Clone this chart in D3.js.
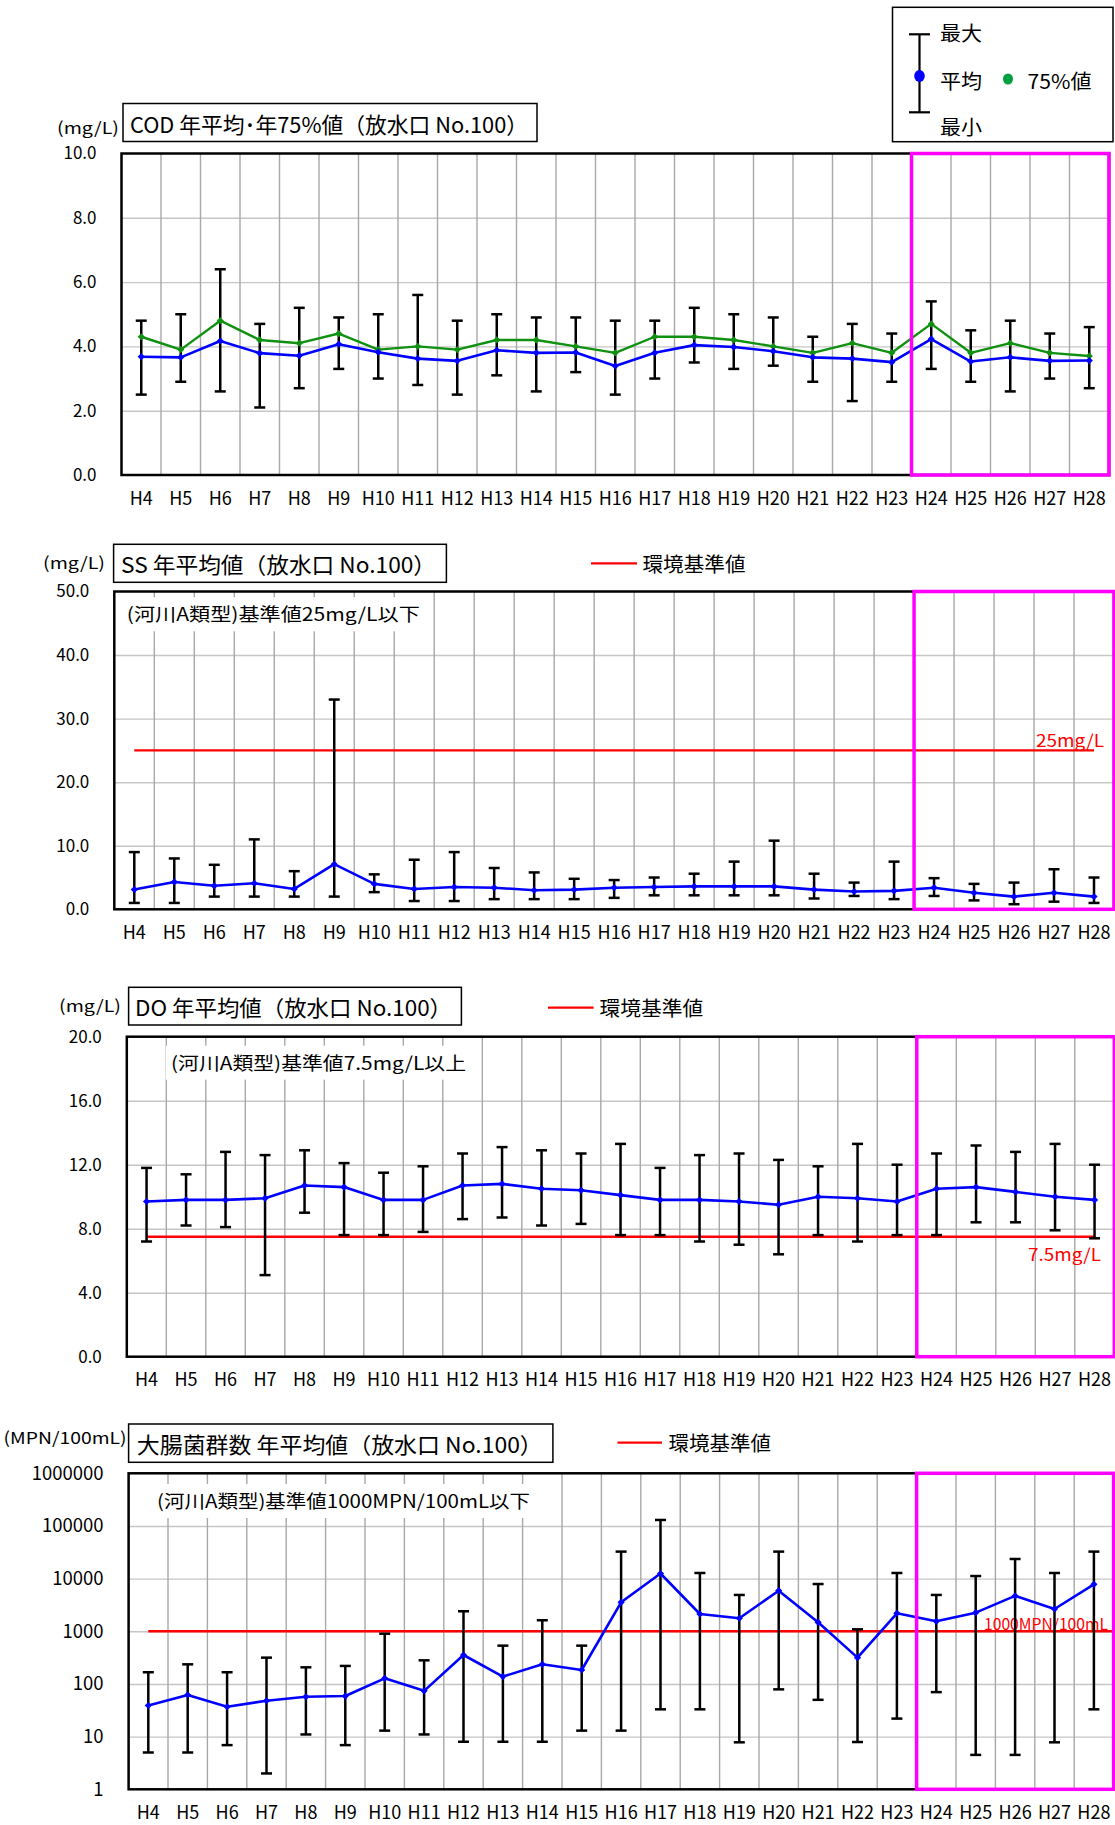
<!DOCTYPE html>
<html lang="ja">
<head>
<meta charset="utf-8">
<script src="https://cdn.jsdelivr.net/npm/d3@7"></script>
<style>
  html, body { margin: 0; padding: 0; background: #fff; }
  svg { display: block; }
</style>
</head>
<body>
<svg id="chart" width="1115" height="1825"></svg>
<script>
// DATA
const years = ["H4","H5","H6","H7","H8","H9","H10","H11","H12","H13","H14","H15","H16",
  "H17","H18","H19","H20","H21","H22","H23","H24","H25","H26","H27","H28"];

const codAvg = [3.68,3.66,4.17,3.79,3.71,4.07,3.82,3.62,3.55,3.88,3.80,3.81,3.39,3.80,4.04,3.98,3.85,3.66,3.62,3.51,4.23,3.53,3.66,3.55,3.56];
const codP75 = [4.3,3.9,4.8,4.2,4.1,4.4,3.9,4.0,3.9,4.2,4.2,4.0,3.8,4.3,4.3,4.2,4.0,3.8,4.1,3.8,4.7,3.8,4.1,3.8,3.7];
const codMax = [4.8,5.0,6.4,4.7,5.2,4.9,5.0,5.6,4.8,5.0,4.9,4.9,4.8,4.8,5.2,5.0,4.9,4.3,4.7,4.4,5.4,4.5,4.8,4.4,4.6];
const codMin = [2.5,2.9,2.6,2.1,2.7,3.3,3.0,2.8,2.5,3.1,2.6,3.2,2.5,3.0,3.5,3.3,3.4,2.9,2.3,2.9,3.3,2.9,2.6,3.0,2.7];

const ssAvg = [3.1,4.3,3.7,4.1,3.2,7.1,4.0,3.2,3.5,3.4,3.0,3.1,3.4,3.5,3.6,3.6,3.6,3.1,2.8,2.9,3.4,2.6,2.0,2.6,2.0];
const ssMax = [9.0,8.0,7.0,11.0,6.0,33.0,5.5,7.8,9.0,6.5,5.8,4.8,4.6,5.0,5.6,7.5,10.8,5.6,4.2,7.5,4.9,4.0,4.2,6.3,5.0];
const ssMin = [1.0,1.0,2.0,2.0,2.0,2.0,2.7,1.3,1.3,1.6,1.6,1.6,1.8,2.2,2.2,2.2,2.2,1.7,2.1,1.6,2.1,1.4,0.8,1.2,1.0];

const doAvg = [9.7,9.8,9.8,9.9,10.7,10.6,9.8,9.8,10.7,10.8,10.5,10.4,10.1,9.8,9.8,9.7,9.5,10.0,9.9,9.7,10.5,10.6,10.3,10.0,9.8];
const doMax = [11.8,11.4,12.8,12.6,12.9,12.1,11.5,11.9,12.7,13.1,12.9,12.7,13.3,11.8,12.6,12.7,12.3,11.9,13.3,12.0,12.7,13.2,12.8,13.3,12.0];
const doMin = [7.2,8.2,8.1,5.1,9.0,7.6,7.6,7.8,8.6,8.7,8.2,8.3,7.6,7.6,7.2,7.0,6.4,7.6,7.2,7.6,7.6,8.4,8.4,7.9,7.4];

const colAvg = [39,62,37,48,57,59,128,74,355,138,236,184,3550,12500,2130,1770,5900,1480,316,2200,1550,2260,4700,2650,7800];
const colMax = [167,236,167,316,207,220,900,281,2400,534,1620,534,32600,130000,12800,4900,32600,7900,1090,12800,4900,11200,23600,12800,32600];
const colMin = [5,5,6.9,2,11,6.9,13,11,8,8,8,13,13,33,33,7.8,79,50,7.9,22,70,4.5,4.5,7.8,33];

const codTicks = [0, 2, 4, 6, 8, 10];
const ssTicks = [0, 10, 20, 30, 40, 50];
const doTicks = [0, 4, 8, 12, 16, 20];
const colTicks = [1, 10, 100, 1000, 10000, 100000, 1000000];

const ssStandard = 25;
const doStandard = 7.5;
const colStandard = 1000;

const FONT = '"Noto Sans CJK JP", "Noto Sans", sans-serif';
const svg = d3.select("#chart").attr("font-family", FONT);

// helper for plain text labels
function label(sel, txt, x, y, size, opts = {}) {
  const t = sel.append("text")
    .attr("x", x).attr("y", y)
    .attr("font-size", size)
    .attr("dominant-baseline", "central")
    .attr("fill", opts.fill || "#000")
    .text(txt);
  if (opts.anchor) t.attr("text-anchor", opts.anchor);
  if (opts.width) t.attr("textLength", opts.width).attr("lengthAdjust", "spacingAndGlyphs");
  return t;
}

// PANEL DRAWING
function drawPanel(p) {
  const g = svg.append("g").attr("class", "panel-" + p.id);
  const w = p.right - p.left;
  const h = p.bottom - p.top;
  const x = d3.scaleBand().domain(years).range([p.left, p.right]);
  const y = (p.log ? d3.scaleLog() : d3.scaleLinear()).domain(p.domain).range([p.bottom, p.top]);
  const cx = (d) => x(d) + x.bandwidth() / 2;

  // title box + unit
  g.append("rect")
    .attr("x", p.title.x0).attr("y", p.title.y0)
    .attr("width", p.title.x1 - p.title.x0).attr("height", p.title.y1 - p.title.y0)
    .attr("fill", "#fff").attr("stroke", "#000").attr("stroke-width", 1.5);
  label(g, p.title.text, p.title.tx, (p.title.y0 + p.title.y1) / 2, 22, { width: p.title.tw });
  label(g, p.unit.text, p.unit.x, p.unit.y, 16.5, { width: p.unit.w });

  // legend for standard line
  if (p.legend) {
    g.append("line")
      .attr("x1", p.legend.x0).attr("x2", p.legend.x1)
      .attr("y1", p.legend.y).attr("y2", p.legend.y)
      .attr("stroke", "#ff0000").attr("stroke-width", 2.2);
    label(g, "環境基準値", p.legend.tx, p.legend.y, 20, { width: p.legend.tw });
  }

  // horizontal grid
  g.append("g")
    .attr("transform", `translate(${p.left},0)`)
    .call(d3.axisLeft(y).tickValues(p.ticks.slice(1, -1)).tickSize(-w).tickFormat(""))
    .call((a) => a.select(".domain").remove())
    .call((a) => a.selectAll("line").attr("stroke", "#c6c6c6").attr("stroke-width", 1.4));

  // vertical grid between years
  g.append("g").selectAll("line")
    .data(years.slice(1))
    .join("line")
    .attr("x1", (d) => x(d)).attr("x2", (d) => x(d))
    .attr("y1", p.top).attr("y2", p.bottom)
    .attr("stroke", "#a8a8a8").attr("stroke-width", 1.4);

  // note inside plot, on a white patch
  if (p.note) {
    const nt = label(g, p.note.text, p.note.x, p.note.y, 18, { width: p.note.w });
    const bb = nt.node().getBBox();
    g.insert("rect", () => nt.node())
      .attr("x", bb.x - 5).attr("y", bb.y - 3)
      .attr("width", bb.width + 10).attr("height", bb.height + 8)
      .attr("fill", "#fff");
  }

  // standard line
  if (p.std != null) {
    g.append("line")
      .attr("x1", cx(years[0]))
      .attr("x2", p.stdToEdge ? p.right : cx(years[years.length - 1]))
      .attr("y1", y(p.std)).attr("y2", y(p.std))
      .attr("stroke", "#ff0000").attr("stroke-width", 2.4);
    label(g, p.stdLabel.text, p.stdLabel.x, p.stdLabel.y, p.stdLabel.size || 17,
      { fill: "#ff0000", width: p.stdLabel.w });
  }

  // error bars (max / min)
  const capW = 5.5;
  const bars = g.append("g").attr("stroke", "#000").attr("stroke-width", 2.5);
  years.forEach((yr, i) => {
    const xc = cx(yr);
    bars.append("line").attr("x1", xc).attr("x2", xc).attr("y1", y(p.max[i])).attr("y2", y(p.min[i]));
    bars.append("line").attr("x1", xc - capW).attr("x2", xc + capW).attr("y1", y(p.max[i])).attr("y2", y(p.max[i]));
    bars.append("line").attr("x1", xc - capW).attr("x2", xc + capW).attr("y1", y(p.min[i])).attr("y2", y(p.min[i]));
  });

  const line = d3.line().x((d, i) => cx(years[i])).y((d) => y(d));
  const marker = d3.symbol(d3.symbolSquare, 26);

  function series(values, color, width) {
    g.append("path").datum(values)
      .attr("d", line).attr("fill", "none")
      .attr("stroke", color).attr("stroke-width", width).attr("stroke-linejoin", "round");
    g.append("g").selectAll("path")
      .data(values)
      .join("path")
      .attr("d", marker)
      .attr("transform", (d, i) => `translate(${cx(years[i])},${y(d)}) rotate(45)`)
      .attr("fill", color);
  }
  if (p.p75) series(p.p75, "#109010", 2.4);
  series(p.avg, "#0000ff", 2.6);

  // plot border + highlight box
  g.append("rect")
    .attr("x", p.left).attr("y", p.top).attr("width", w).attr("height", h)
    .attr("fill", "none").attr("stroke", "#000").attr("stroke-width", 2.5);
  g.append("rect")
    .attr("x", x("H24")).attr("y", p.top)
    .attr("width", p.right - x("H24")).attr("height", h)
    .attr("fill", "none").attr("stroke", "#ff00ff").attr("stroke-width", 3.5);

  // axes labels
  g.append("g")
    .attr("transform", `translate(${p.left},0)`)
    .call(d3.axisLeft(y).tickValues(p.ticks).tickFormat(p.fmt).tickSize(0).tickPadding(p.yPad))
    .call((a) => a.select(".domain").remove())
    .attr("font-family", FONT).attr("font-size", p.ySize)
    .selectAll("text").attr("fill", "#000");

  g.append("g")
    .attr("transform", `translate(0,${p.bottom})`)
    .call(d3.axisBottom(x).tickSize(0).tickPadding(17))
    .call((a) => a.select(".domain").remove())
    .attr("font-family", FONT).attr("font-size", 18)
    .selectAll("text").attr("fill", "#000");
}

const panels = [
  {
    id: "cod", left: 121.5, right: 1109, top: 153.5, bottom: 475,
    domain: [0, 10], ticks: codTicks, fmt: d3.format(".1f"), yPad: 25, ySize: 17,
    avg: codAvg, p75: codP75, max: codMax, min: codMin,
    title: { text: "COD 年平均･年75%値（放水口 No.100）", x0: 123, x1: 537, y0: 103.5, y1: 141.5, tx: 130, tw: 398 },
    unit: { text: "(mg/L)", x: 57, y: 127, w: 62 }
  },
  {
    id: "ss", left: 114.3, right: 1114, top: 591.5, bottom: 909.3,
    domain: [0, 50], ticks: ssTicks, fmt: d3.format(".1f"), yPad: 25, ySize: 17,
    avg: ssAvg, max: ssMax, min: ssMin,
    std: ssStandard, stdLabel: { text: "25mg/L", x: 1036, y: 739, w: 68 },
    title: { text: "SS 年平均値（放水口 No.100）", x0: 113.6, x1: 446.4, y0: 544.3, y1: 582.3, tx: 121, tw: 315 },
    unit: { text: "(mg/L)", x: 43, y: 561.5, w: 62 },
    legend: { x0: 591, x1: 637, y: 563.3, tx: 642.5, tw: 103 },
    note: { text: "(河川A類型)基準値25mg/L以下", x: 126.8, y: 613.3, w: 293 }
  },
  {
    id: "do", left: 126.8, right: 1114.3, top: 1036.7, bottom: 1356.7,
    domain: [0, 20], ticks: doTicks, fmt: d3.format(".1f"), yPad: 25, ySize: 17,
    avg: doAvg, max: doMax, min: doMin,
    std: doStandard, stdLabel: { text: "7.5mg/L", x: 1028, y: 1253.3, w: 73 },
    title: { text: "DO 年平均値（放水口 No.100）", x0: 128.6, x1: 461.4, y0: 987.3, y1: 1025, tx: 135, tw: 317 },
    unit: { text: "(mg/L)", x: 59, y: 1005, w: 62 },
    legend: { x0: 548, x1: 593.6, y: 1007.7, tx: 599.6, tw: 103.6 },
    note: { text: "(河川A類型)基準値7.5mg/L以上", x: 171, y: 1061.7, w: 295 }
  },
  {
    id: "col", left: 128.6, right: 1113.6, top: 1473.3, bottom: 1789.3, log: true, stdToEdge: true,
    domain: [1, 1000000], ticks: colTicks, fmt: (d) => String(d), yPad: 25, ySize: 18.5,
    avg: colAvg, max: colMax, min: colMin,
    std: colStandard, stdLabel: { text: "1000MPN/100mL", x: 984, y: 1623, w: 124, size: 15.5 },
    title: { text: "大腸菌群数 年平均値（放水口 No.100）", x0: 128.6, x1: 552.9, y0: 1424, y1: 1462.3, tx: 136.8, tw: 406 },
    unit: { text: "(MPN/100mL)", x: 3.6, y: 1436.7, w: 123 },
    legend: { x0: 617.5, x1: 662, y: 1442.7, tx: 668.6, tw: 102.4 },
    note: { text: "(河川A類型)基準値1000MPN/100mL以下", x: 157, y: 1500, w: 373 }
  }
];

panels.forEach(drawPanel);

// TOP LEGEND (max / mean / min / 75%)
const lg = svg.append("g").attr("class", "legend");
lg.append("rect")
  .attr("x", 892.5).attr("y", 7.3).attr("width", 220.5).attr("height", 134.4)
  .attr("fill", "#fff").attr("stroke", "#000").attr("stroke-width", 1.5);
lg.append("line").attr("x1", 919.5).attr("x2", 919.5).attr("y1", 34.3).attr("y2", 112.3)
  .attr("stroke", "#000").attr("stroke-width", 2.2);
[34.3, 112.3].forEach((yy) => {
  lg.append("line").attr("x1", 909).attr("x2", 930).attr("y1", yy).attr("y2", yy)
    .attr("stroke", "#000").attr("stroke-width", 2.2);
});
lg.append("ellipse").attr("cx", 919.5).attr("cy", 76).attr("rx", 5.3).attr("ry", 6).attr("fill", "#0000ff");
lg.append("ellipse").attr("cx", 1008).attr("cy", 79).attr("rx", 5).attr("ry", 5.5).attr("fill", "#00a040");
label(lg, "最大", 940, 32, 20, { width: 42 });
label(lg, "平均", 940, 80, 20, { width: 42 });
label(lg, "75%値", 1027.5, 80, 20, { width: 64 });
label(lg, "最小", 940, 126.5, 20, { width: 42 });
</script>
</body>
</html>
